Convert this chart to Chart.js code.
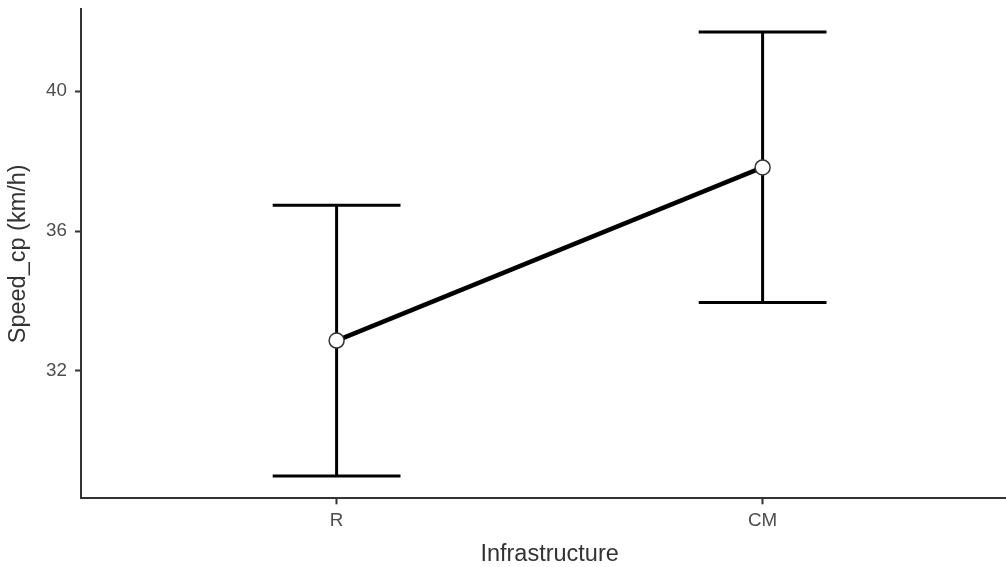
<!DOCTYPE html>
<html>
<head>
<meta charset="utf-8">
<script src="https://cdn.jsdelivr.net/npm/chart.js@4/dist/chart.umd.min.js"></script>
<style>
  html, body { margin: 0; padding: 0; background: #ffffff; }
  #wrap { width: 1006px; height: 567px; position: relative; overflow: hidden; }
</style>
</head>
<body>
<div id="wrap"><canvas id="c" width="1006" height="567"></canvas></div>
<script>
// ---- data ----
const categories = ['R', 'CM'];
const meanSpeed = [32.87, 37.82];
const lowerCI = [29.00, 33.96];
const upperCI = [36.74, 41.69];
const yTicks = [32, 36, 40];
const xTitle = 'Infrastructure';
const yTitle = 'Speed_cp (km/h)';

const FONT = "'Liberation Sans', Arial, sans-serif";
const capHalfWidth = 0.15;
const panelOverflowRight = 12.2; // the original panel runs past the right edge of the picture

const points = categories.map((c, i) => ({ x: i + 1, y: meanSpeed[i] }));

function zeroPadding(scale) {
  scale.paddingTop = 0;
  scale.paddingBottom = 0;
  scale.paddingLeft = 0;
  scale.paddingRight = 0;
}

const widenPanel = {
  id: 'widenPanel',
  afterLayout(chart) {
    const x = chart.scales.x;
    x.right = chart.width + panelOverflowRight;
    x.width = x.right - x.left;
    chart.chartArea.right = x.right;
    chart.chartArea.width = x.right - chart.chartArea.left;
    x.configure();
  }
};

const errorBars = {
  id: 'errorBars',
  beforeDatasetsDraw(chart) {
    const { ctx, scales: { x, y } } = chart;
    ctx.save();
    ctx.strokeStyle = '#000000';
    ctx.lineWidth = 3;
    ctx.lineCap = 'butt';
    categories.forEach((c, i) => {
      const px = x.getPixelForValue(i + 1);
      const pl = x.getPixelForValue(i + 1 - capHalfWidth);
      const pr = x.getPixelForValue(i + 1 + capHalfWidth);
      const yt = y.getPixelForValue(upperCI[i]);
      const yb = y.getPixelForValue(lowerCI[i]);
      ctx.beginPath();
      ctx.moveTo(px, yt); ctx.lineTo(px, yb);
      ctx.moveTo(pl, yt); ctx.lineTo(pr, yt);
      ctx.moveTo(pl, yb); ctx.lineTo(pr, yb);
      ctx.stroke();
    });
    ctx.restore();
  }
};

new Chart(document.getElementById('c'), {
  type: 'scatter',
  data: {
    datasets: [{
      data: points,
      showLine: true,
      borderColor: '#000000',
      borderWidth: 4.5,
      pointRadius: 7.5,
      pointHoverRadius: 7.5,
      pointBackgroundColor: '#ffffff',
      pointBorderColor: '#333333',
      pointBorderWidth: 1.5,
      clip: false
    }]
  },
  options: {
    responsive: false,
    animation: false,
    events: [],
    layout: { autoPadding: false, padding: { top: 9.3, right: 0, bottom: 0, left: 0 } },
    plugins: { legend: { display: false }, tooltip: { enabled: false } },
    scales: {
      x: {
        type: 'linear',
        min: 0.4,
        max: 2.6,
        afterFit(scale) { scale.height = 68.7; zeroPadding(scale); },
        afterBuildTicks(scale) { scale.ticks = categories.map((c, i) => ({ value: i + 1 })); },
        ticks: {
          callback: (v) => categories[v - 1],
          font: { family: FONT, size: 18.8 },
          color: '#4d4d4d',
          padding: 5,
          maxRotation: 0
        },
        grid: { display: true, drawOnChartArea: false, drawTicks: true, tickLength: 6, tickColor: '#333333', tickWidth: 2 },
        border: { display: true, color: '#333333', width: 2 },
        title: {
          display: true,
          text: xTitle,
          font: { family: FONT, size: 23.5 },
          color: '#333333',
          padding: { top: 0, bottom: -1.5 }
        }
      },
      y: {
        type: 'linear',
        min: 28.36,
        max: 42.34,
        afterFit(scale) { scale.width = 81; zeroPadding(scale); },
        afterBuildTicks(scale) { scale.ticks = yTicks.map(v => ({ value: v })); },
        ticks: {
          font: { family: FONT, size: 18.8 },
          color: '#4d4d4d',
          padding: 8
        },
        grid: { display: true, drawOnChartArea: false, drawTicks: true, tickLength: 6, tickColor: '#333333', tickWidth: 2 },
        border: { display: true, color: '#333333', width: 2 },
        title: {
          display: true,
          text: yTitle,
          font: { family: FONT, size: 23.5 },
          color: '#333333',
          padding: { top: 4.5, bottom: 0 }
        }
      }
    }
  },
  plugins: [widenPanel, errorBars]
});
</script>
</body>
</html>
